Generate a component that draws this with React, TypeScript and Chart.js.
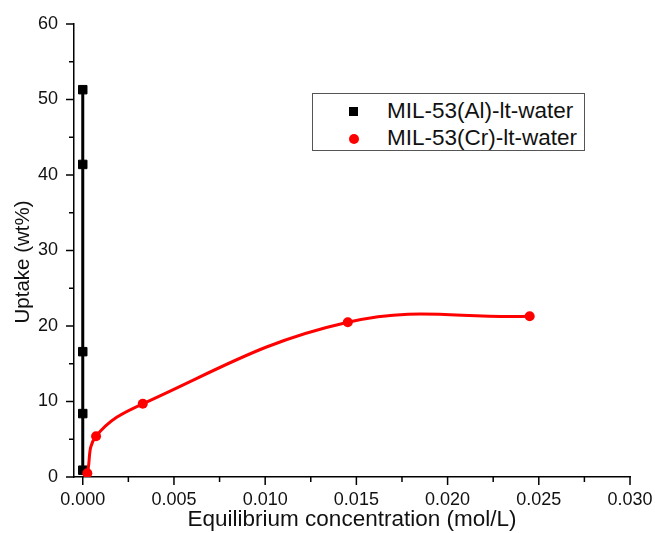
import React, { useEffect, useRef } from "react";
import { Chart, registerables } from "chart.js";

Chart.register(...registerables);

const AL_X = [0, 0, 0, 0, 0];
const AL_Y = [0.9, 8.4, 16.6, 41.4, 51.3];
const CR_X = [0.00025, 0.00073, 0.00329, 0.01453, 0.0245];
const CR_Y = [0.5, 5.4, 9.7, 20.5, 21.3];

const X_TICKS = [0, 0.005, 0.01, 0.015, 0.02, 0.025, 0.03];
const X_MINOR = [0.0025, 0.0075, 0.0125, 0.0175, 0.0225, 0.0275];
const Y_TICKS = [0, 10, 20, 30, 40, 50, 60];
const Y_MINOR = [5, 15, 25, 35, 45, 55];

const AL_LABEL = "MIL-53(Al)-lt-water";
const CR_LABEL = "MIL-53(Cr)-lt-water";
const X_TITLE = "Equilibrium concentration (mol/L)";
const Y_TITLE = "Uptake (wt%)";

const FONT = '"Liberation Sans", Arial, sans-serif';

const tickPlugin = {
  id: "customTicks",
  afterDraw(chart: any) {
    const ctx = chart.ctx;
    const xs = chart.scales.x;
    const ys = chart.scales.y;
    const a = chart.chartArea;
    ctx.save();
    ctx.strokeStyle = "#000";
    ctx.lineWidth = 1.5;
    const line = (x1: number, y1: number, x2: number, y2: number) => {
      ctx.beginPath();
      ctx.moveTo(x1, y1);
      ctx.lineTo(x2, y2);
      ctx.stroke();
    };
    X_TICKS.forEach((v) => {
      const p = xs.getPixelForValue(v);
      line(p, a.bottom, p, a.bottom + 8);
    });
    X_MINOR.forEach((v) => {
      const p = xs.getPixelForValue(v);
      line(p, a.bottom, p, a.bottom + 5);
    });
    Y_TICKS.forEach((v) => {
      const p = ys.getPixelForValue(v);
      line(a.left, p, a.left - 8, p);
    });
    Y_MINOR.forEach((v) => {
      const p = ys.getPixelForValue(v);
      line(a.left, p, a.left - 5, p);
    });
    ctx.translate(23, 262);
    ctx.rotate(-Math.PI / 2);
    ctx.fillStyle = "#111";
    ctx.font = `20.5px ${FONT}`;
    ctx.textAlign = "center";
    ctx.textBaseline = "middle";
    ctx.fillText(Y_TITLE, 0, 0);
    ctx.restore();
  },
};

export default function App() {
  const ref = useRef<HTMLCanvasElement>(null);
  useEffect(() => {
    if (!ref.current) return;
    const chart = new Chart(ref.current, {
      type: "line",
      data: {
        datasets: [
          {
            label: CR_LABEL,
            data: CR_X.map((x, i) => ({ x, y: CR_Y[i] })),
            borderColor: "#ff0000",
            backgroundColor: "#ff0000",
            borderWidth: 3,
            pointStyle: "circle",
            pointRadius: 5,
            pointBorderWidth: 0,
            pointBackgroundColor: "#ff0000",
            tension: 0.4,
            order: 0,
          },
          {
            label: AL_LABEL,
            data: AL_X.map((x, i) => ({ x, y: AL_Y[i] })),
            borderColor: "#000",
            backgroundColor: "#000",
            borderWidth: 3,
            pointStyle: "rect",
            pointRadius: 6,
            pointBorderWidth: 1,
            pointBackgroundColor: "#000",
            tension: 0,
            order: 1,
          },
        ],
      },
      options: {
        animation: false,
        responsive: false,
        maintainAspectRatio: false,
        layout: { padding: { left: 0, top: 24, right: 25, bottom: 0 } },
        plugins: { legend: { display: false }, tooltip: { enabled: false } },
        scales: {
          x: {
            type: "linear",
            min: -0.00048,
            max: 0.03,
            grid: { display: false, drawTicks: false },
            border: { display: true, color: "#000", width: 1.5 },
            afterBuildTicks: (s: any) => {
              s.ticks = X_TICKS.map((value) => ({ value }));
            },
            afterFit: (s: any) => {
              s.height = 56;
              s.paddingLeft = 0;
              s.paddingRight = 0;
            },
            ticks: {
              padding: 12,
              color: "#111",
              font: { family: FONT, size: 18 },
              maxRotation: 0,
              autoSkip: false,
              callback: (v: any) => Number(v).toFixed(3),
            },
            title: {
              display: true,
              text: X_TITLE,
              color: "#111",
              font: { family: FONT, size: 22.5 },
              padding: 0,
            },
          },
          y: {
            type: "linear",
            min: 0,
            max: 60,
            grid: { display: false, drawTicks: false },
            border: { display: true, color: "#000", width: 1.5 },
            afterBuildTicks: (s: any) => {
              s.ticks = Y_TICKS.map((value) => ({ value }));
            },
            afterFit: (s: any) => {
              s.width = 74;
              s.paddingTop = 0;
              s.paddingBottom = 0;
            },
            ticks: {
              padding: 16,
              color: "#111",
              font: { family: FONT, size: 18 },
              autoSkip: false,
              callback: (v: any) => String(v),
            },
          },
        },
      },
      plugins: [tickPlugin],
    });
    return () => chart.destroy();
  }, []);

  const itemStyle: React.CSSProperties = {
    position: "absolute",
    left: 74,
    whiteSpace: "nowrap",
    fontFamily: FONT,
    fontSize: 22.5,
    color: "#111",
    lineHeight: "26px",
  };

  return (
    <div style={{ position: "absolute", left: 0, top: 0, width: 655, height: 533, background: "#fff" }}>
      <canvas ref={ref} width={655} height={533} style={{ display: "block" }} />
      <div
        style={{
          position: "absolute",
          left: 312,
          top: 93,
          width: 271,
          height: 56,
          border: "1px solid #555",
          background: "#fff",
        }}
      >
        <div style={{ position: "absolute", left: 36, top: 13, width: 9, height: 9, background: "#000" }} />
        <div style={{ ...itemStyle, top: 4 }}>{AL_LABEL}</div>
        <div
          style={{ position: "absolute", left: 36, top: 40, width: 10, height: 10, borderRadius: "50%", background: "#ff0000" }}
        />
        <div style={{ ...itemStyle, top: 31 }}>{CR_LABEL}</div>
      </div>
    </div>
  );
}
